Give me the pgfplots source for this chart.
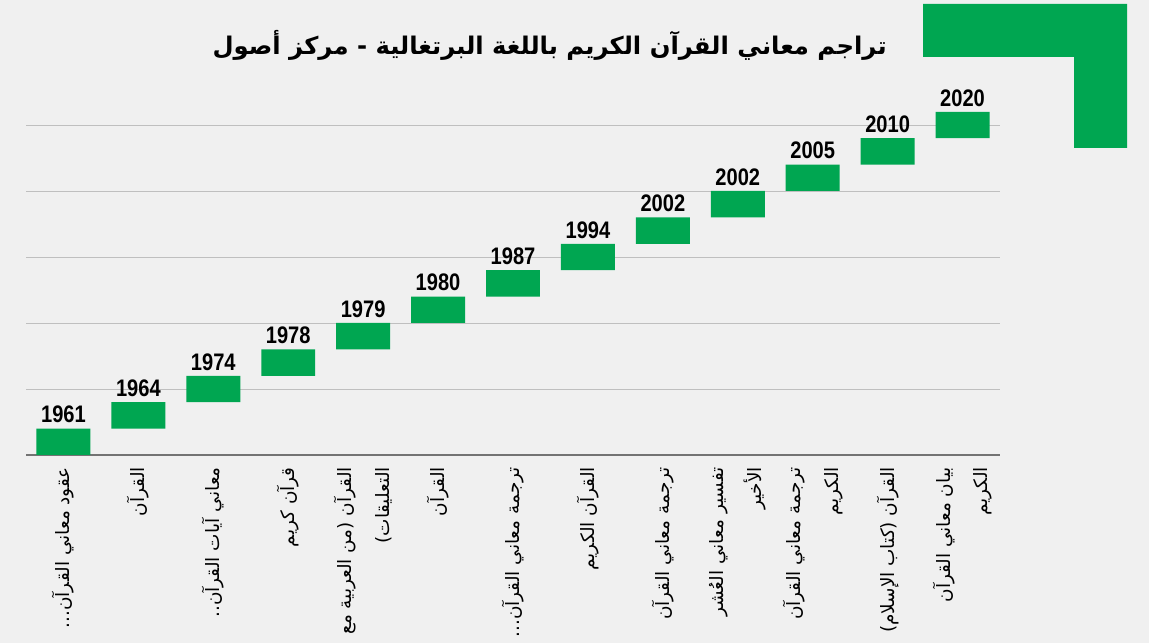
\documentclass[border=0pt]{standalone}
\usepackage{pgfplots}
\pgfplotsset{compat=1.18}
\usepackage{fontspec}
\setmainfont{Liberation Sans}
\newfontfamily\arabicfont[Script=Arabic]{DejaVu Sans}
\newfontfamily\yearfont[FakeStretch=0.84]{Liberation Sans}
\TeXXeTstate=1
\definecolor{bg}{HTML}{F0F0F0}
\definecolor{grn}{HTML}{00A651}
\newcommand\tdots{...}
\pgfplotstableread{
x base
0 0
1 1
2 2
3 3
4 4
5 5
6 6
7 7
8 8
9 9
10 10
11 11
12 12
}\basedata
\pgfplotstableread{
x h year
0 1 1961
1 1 1964
2 1 1974
3 1 1978
4 1 1979
5 1 1980
6 1 1987
7 1 1994
8 1 2002
9 1 2002
10 1 2005
11 1 2010
12 1 2020
}\bardata
\begin{document}
\begin{tikzpicture}[x=1bp,y=1bp]
\useasboundingbox (0,0) rectangle (1149,643);
\fill[bg] (0,0) rectangle (1149,643);
\fill[grn] (923,639) -- (1127,639) -- (1127,495) -- (1074,495) -- (1074,586) -- (923,586) -- cycle;
\node[anchor=east, inner sep=0pt, font=\arabicfont\bfseries\fontsize{24.4}{28}\selectfont] at (887,598) {\beginR تراجم معاني القرآن الكريم باللغة البرتغالية - مركز أصول\endR};
\begin{axis}[
  at={(26bp,188bp)}, anchor=south west,
  scale only axis, width=974bp, height=356.4bp,
  xmin=-0.5, xmax=12.5, ymin=0, ymax=13.5,
  clip=false,
  axis line style={draw=none}, tick style={draw=none},
  ytick={2.5,5,7.5,10,12.5}, yticklabels={},
  ymajorgrids, grid style={draw=black!25, line width=0.9pt},
  extra y ticks={0}, extra y tick labels={},
  extra y tick style={grid style={draw=black!55, line width=1.6pt}},
  xtick={0,...,12},
  xticklabels={
    {\beginR عقود معاني القرآن\tdots\endR},
    {\beginR القرآن\endR},
    {\beginR معاني آيات القرآن..\endR},
    {\beginR قرآن كريم\endR},
    {\beginR القرآن (من العربية مع\endR\\\beginR التعليقات)\endR},
    {\beginR القرآن\endR},
    {\beginR ترجمة معاني القرآن\tdots\endR},
    {\beginR القرآن الكريم\endR},
    {\beginR ترجمة معاني القرآن\endR},
    {\beginR تفسير معاني العُشر\endR\\\beginR الأخير\endR},
    {\beginR ترجمة معاني القرآن\endR\\\beginR الكريم\endR},
    {\beginR القرآن (كتاب الإسلام)\endR},
    {\beginR بيان معاني القرآن\endR\\\beginR الكريم\endR}
  },
  xticklabel style={rotate=90, anchor=east, align=right, inner sep=0pt, xshift=-12bp,
    font=\arabicfont\fontsize{18.5}{38}\selectfont},
  ybar stacked, bar width=0.72,
]
\addplot[draw=none, fill=none] table[x=x, y=base] {\basedata};
\addplot[fill=grn, draw=none,
  nodes near coords, point meta=explicit symbolic,
  every node near coord/.append style={anchor=south, font=\yearfont\bfseries\fontsize{24}{24}\selectfont, text=black, inner sep=0pt, yshift=18.5bp}]
  table[x=x, y=h, meta=year] {\bardata};
\end{axis}
\end{tikzpicture}
\end{document}
